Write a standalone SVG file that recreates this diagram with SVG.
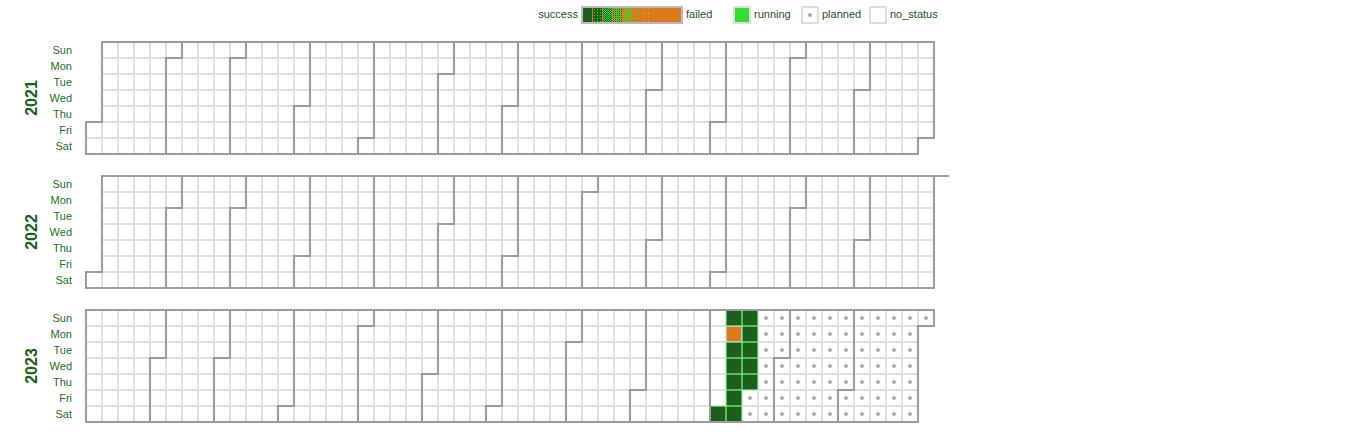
<svg xmlns="http://www.w3.org/2000/svg" width="1364" height="436" viewBox="0 0 1364 436">
<style>
  text { font-family: "Liberation Sans", Arial, sans-serif; }
  .day { font-size: 11px; fill: #2a6b2a; text-anchor: end; }
  .year { font-size: 16px; font-weight: bold; fill: #1d5c1d; text-anchor: middle; }
  .leg { font-size: 11px; fill: #2c4f2c; }
  .grid { fill: url(#cell); }
  .month { fill: none; stroke: #9c9c9c; stroke-width: 2; }
  .ok { fill: #1e5e1e; stroke: #38d838; stroke-width: 1; stroke-dasharray: 1.5 1; }
  .fail { fill: #da7a1c; stroke: #c8c8c8; stroke-width: 1; }
  .planned { fill: url(#dot); }
  .lsq { stroke: #dddddd; stroke-width: 2; }
</style>
<defs>
  <pattern id="cell" patternUnits="userSpaceOnUse" width="16" height="16">
    <rect width="16" height="16" fill="#ffffff" stroke="#e0e0e0" stroke-width="2"/>
  </pattern>
  <pattern id="dot" patternUnits="userSpaceOnUse" width="16" height="16">
    <circle cx="8" cy="8" r="2" fill="#aaaaaa"/>
  </pattern>
  <pattern id="p1" patternUnits="userSpaceOnUse" width="3" height="3">
    <rect width="3" height="3" fill="#1e5e1e"/><rect width="1" height="1" fill="#38d838"/>
  </pattern>
  <pattern id="p2" patternUnits="userSpaceOnUse" width="2" height="2">
    <rect width="2" height="2" fill="#1e5e1e"/><rect width="1" height="1" fill="#38d838"/><rect x="1" y="1" width="1" height="1" fill="#38d838"/>
  </pattern>
  <pattern id="p3" patternUnits="userSpaceOnUse" width="2" height="2">
    <rect width="2" height="2" fill="#38d838"/><rect width="1" height="1" fill="#da7a1c"/><rect x="1" y="1" width="1" height="1" fill="#1e5e1e"/>
  </pattern>
  <pattern id="p4" patternUnits="userSpaceOnUse" width="2" height="2">
    <rect width="2" height="2" fill="#da7a1c"/><rect width="1" height="2" fill="#38d838"/>
  </pattern>
  <pattern id="p5" patternUnits="userSpaceOnUse" width="3" height="3">
    <rect width="3" height="3" fill="#da7a1c"/><rect width="1" height="1" fill="#38d838"/>
  </pattern>
  <pattern id="p6" patternUnits="userSpaceOnUse" width="4" height="4">
    <rect width="4" height="4" fill="#da7a1c"/><rect width="1" height="1" fill="#e8a860"/>
  </pattern>
</defs>

<g id="legend">
  <text class="leg" x="578" y="18" text-anchor="end">success</text>
  <g id="legend-gradient">
    <rect x="582" y="7" width="100" height="16" fill="#da7a1c" stroke="#bbbbbb" stroke-width="2"/>
    <rect x="583" y="8" width="9" height="14" fill="#1e5e1e"/>
    <rect x="593" y="8" width="9" height="14" fill="url(#p1)"/>
    <rect x="603" y="8" width="9" height="14" fill="url(#p2)"/>
    <rect x="613" y="8" width="9" height="14" fill="url(#p3)"/>
    <rect x="623" y="8" width="9" height="14" fill="url(#p4)"/>
    <rect x="633" y="8" width="9" height="14" fill="url(#p5)"/>
    <rect x="643" y="8" width="9" height="14" fill="url(#p6)"/>
  </g>
  <text class="leg" x="686" y="18">failed</text>
  <rect class="lsq" x="734" y="7" width="16" height="16" fill="#33dd33" stroke="none"/>
  <text class="leg" x="754" y="18">running</text>
  <rect class="lsq" x="802" y="7" width="16" height="16" fill="#ffffff"/>
  <circle cx="810" cy="15" r="2" fill="#aaaaaa"/>
  <text class="leg" x="822" y="18">planned</text>
  <rect class="lsq" x="870" y="7" width="16" height="16" fill="#ffffff"/>
  <text class="leg" x="890" y="18">no_status</text>
</g>

<g id="year-2021">
  <text class="year" transform="translate(37,98) rotate(-90)">2021</text>
  <g id="days-2021">
    <text class="day" x="72" y="54">Sun</text>
    <text class="day" x="72" y="70">Mon</text>
    <text class="day" x="72" y="86">Tue</text>
    <text class="day" x="72" y="102">Wed</text>
    <text class="day" x="72" y="118">Thu</text>
    <text class="day" x="72" y="134">Fri</text>
    <text class="day" x="72" y="150">Sat</text>
  </g>
  <g transform="translate(86,42)">
    <path class="grid" d="M16,80H0V112H832V96H848V0H16Z"/>
    <g id="months-2021">
      <path class="month" d="M16,80H0V112H80V16H96V0H16Z"/>
      <path class="month" d="M96,16H80V112H144V16H160V0H96Z"/>
      <path class="month" d="M160,16H144V112H208V64H224V0H160Z"/>
      <path class="month" d="M224,64H208V112H272V96H288V0H224Z"/>
      <path class="month" d="M288,96H272V112H352V32H368V0H288Z"/>
      <path class="month" d="M368,32H352V112H416V64H432V0H368Z"/>
      <path class="month" d="M432,64H416V112H480V112H496V0H432Z"/>
      <path class="month" d="M512,0H496V112H560V48H576V0H512Z"/>
      <path class="month" d="M576,48H560V112H624V80H640V0H576Z"/>
      <path class="month" d="M640,80H624V112H704V16H720V0H640Z"/>
      <path class="month" d="M720,16H704V112H768V48H784V0H720Z"/>
      <path class="month" d="M784,48H768V112H832V96H848V0H784Z"/>
    </g>
  </g>
</g>

<g id="year-2022">
  <text class="year" transform="translate(37,232) rotate(-90)">2022</text>
  <g id="days-2022">
    <text class="day" x="72" y="188">Sun</text>
    <text class="day" x="72" y="204">Mon</text>
    <text class="day" x="72" y="220">Tue</text>
    <text class="day" x="72" y="236">Wed</text>
    <text class="day" x="72" y="252">Thu</text>
    <text class="day" x="72" y="268">Fri</text>
    <text class="day" x="72" y="284">Sat</text>
  </g>
  <g transform="translate(86,176)">
    <path class="grid" d="M16,96H0V112H848V0H16Z"/>
    <g id="months-2022">
      <path class="month" d="M16,96H0V112H80V32H96V0H16Z"/>
      <path class="month" d="M96,32H80V112H144V32H160V0H96Z"/>
      <path class="month" d="M160,32H144V112H208V80H224V0H160Z"/>
      <path class="month" d="M224,80H208V112H272V112H288V0H224Z"/>
      <path class="month" d="M304,0H288V112H352V48H368V0H304Z"/>
      <path class="month" d="M368,48H352V112H416V80H432V0H368Z"/>
      <path class="month" d="M432,80H416V112H496V16H512V0H432Z"/>
      <path class="month" d="M512,16H496V112H560V64H576V0H512Z"/>
      <path class="month" d="M576,64H560V112H624V96H640V0H576Z"/>
      <path class="month" d="M640,96H624V112H704V32H720V0H640Z"/>
      <path class="month" d="M720,32H704V112H768V64H784V0H720Z"/>
      <path class="month" d="M784,64H768V112H832V112H848V0H784Z"/>
      <path class="month" d="M848,0H863"/>
    </g>
  </g>
</g>

<g id="year-2023">
  <text class="year" transform="translate(37,366) rotate(-90)">2023</text>
  <g id="days-2023">
    <text class="day" x="72" y="322">Sun</text>
    <text class="day" x="72" y="338">Mon</text>
    <text class="day" x="72" y="354">Tue</text>
    <text class="day" x="72" y="370">Wed</text>
    <text class="day" x="72" y="386">Thu</text>
    <text class="day" x="72" y="402">Fri</text>
    <text class="day" x="72" y="418">Sat</text>
  </g>
  <g transform="translate(86,310)">
    <path class="grid" d="M16,0H0V112H832V16H848V0H16Z"/>
    <g id="runs-2023">
      <rect class="ok" x="624.5" y="96.5" width="15" height="15"/>
      <rect class="ok" x="640.5" y="0.5" width="15" height="15"/>
      <rect class="fail" x="640.5" y="16.5" width="15" height="15"/>
      <rect class="ok" x="640.5" y="32.5" width="15" height="15"/>
      <rect class="ok" x="640.5" y="48.5" width="15" height="15"/>
      <rect class="ok" x="640.5" y="64.5" width="15" height="15"/>
      <rect class="ok" x="640.5" y="80.5" width="15" height="15"/>
      <rect class="ok" x="640.5" y="96.5" width="15" height="15"/>
      <rect class="ok" x="656.5" y="0.5" width="15" height="15"/>
      <rect class="ok" x="656.5" y="16.5" width="15" height="15"/>
      <rect class="ok" x="656.5" y="32.5" width="15" height="15"/>
      <rect class="ok" x="656.5" y="48.5" width="15" height="15"/>
      <rect class="ok" x="656.5" y="64.5" width="15" height="15"/>
      <path class="planned" d="M656,80H672V0H832V16H848V0H832V112H656Z"/>
    </g>
    <g id="months-2023">
      <path class="month" d="M16,0H0V112H64V48H80V0H16Z"/>
      <path class="month" d="M80,48H64V112H128V48H144V0H80Z"/>
      <path class="month" d="M144,48H128V112H192V96H208V0H144Z"/>
      <path class="month" d="M208,96H192V112H272V16H288V0H208Z"/>
      <path class="month" d="M288,16H272V112H336V64H352V0H288Z"/>
      <path class="month" d="M352,64H336V112H400V96H416V0H352Z"/>
      <path class="month" d="M416,96H400V112H480V32H496V0H416Z"/>
      <path class="month" d="M496,32H480V112H544V80H560V0H496Z"/>
      <path class="month" d="M560,80H544V112H608V112H624V0H560Z"/>
      <path class="month" d="M640,0H624V112H688V48H704V0H640Z"/>
      <path class="month" d="M704,48H688V112H752V80H768V0H704Z"/>
      <path class="month" d="M768,80H752V112H832V16H848V0H768Z"/>
    </g>
  </g>
</g>
</svg>
